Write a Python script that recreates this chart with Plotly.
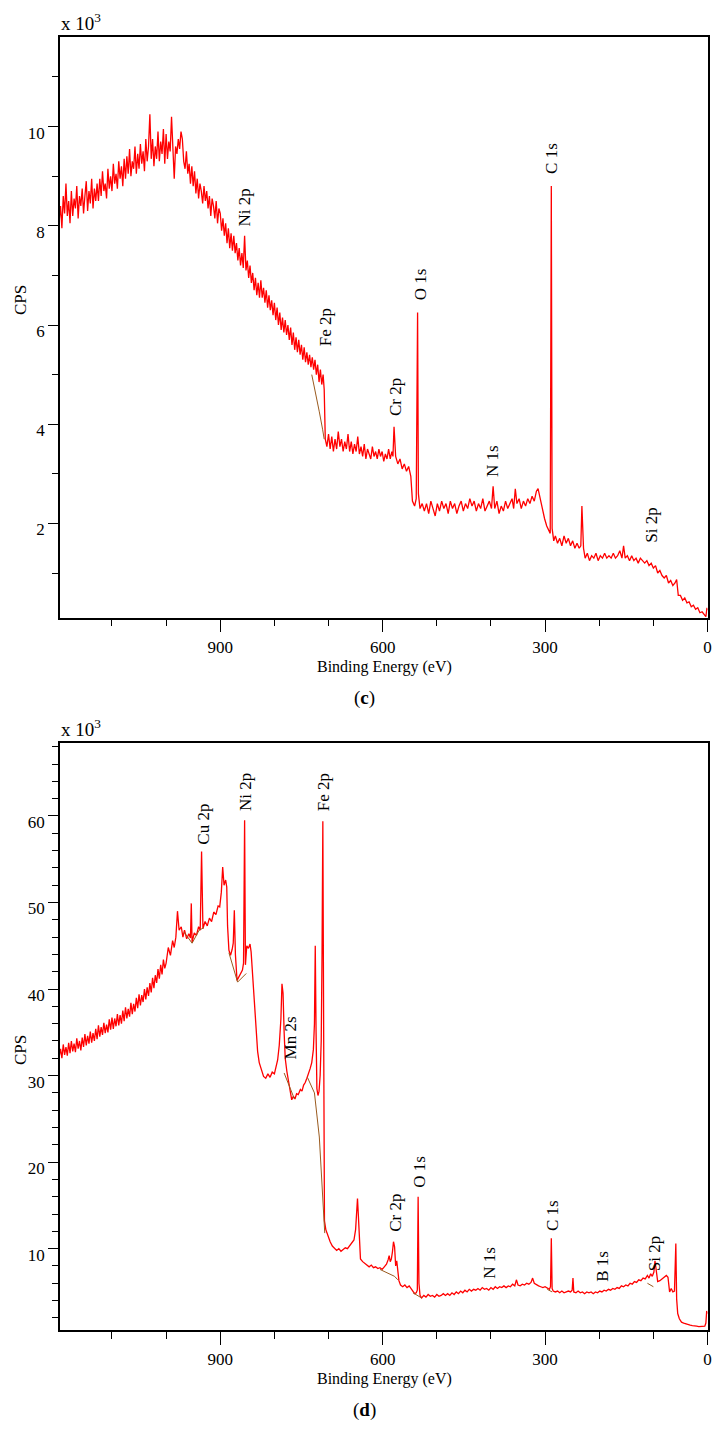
import plotly.graph_objects as go

# ---- panel (c): survey spectrum, counts in thousands ----
c_energy = [
    1200, 1197.5, 1195, 1192.5, 1190, 1187.5, 1185, 1182.5, 1180, 1177.5,
    1175, 1172.5, 1170, 1167.5, 1165, 1162.5, 1160, 1157.5, 1155, 1152.5,
    1150, 1147.5, 1145, 1142.5, 1140, 1137.5, 1135, 1132.5, 1130, 1127.5,
    1125, 1122.5, 1120, 1117.5, 1115, 1112.5, 1110, 1107.5, 1105, 1102.5,
    1100, 1097.5, 1095, 1092.5, 1090, 1087.5, 1085, 1082.5, 1080, 1077.5,
    1075, 1072.5, 1070, 1067.5, 1065, 1062.5, 1060, 1057.5, 1055, 1052.5,
    1050, 1047.5, 1045, 1042.5, 1040, 1037.5, 1035, 1032.5, 1030, 1027.5,
    1025, 1022.5, 1020, 1017.5, 1015, 1012.5, 1010, 1007.5, 1005, 1002.5,
    1000, 997.5, 995, 992.5, 990, 987.5, 985, 982.5, 980, 977.5,
    975, 972.5, 970, 967.5, 965, 962.5, 960, 957.5, 955, 952.5,
    950, 947.5, 945, 942.5, 940, 937.5, 935, 932.5, 930, 927.5,
    925, 922.5, 920, 917.5, 915, 912.5, 910, 907.5, 905, 902.5,
    900, 897.5, 895, 892.5, 890, 887.5, 885, 882.5, 880, 877.5,
    875, 872.5, 870, 867.5, 865, 862.5, 860, 857.5, 855, 852.5,
    850, 847.5, 845, 842.5, 840, 837.5, 835, 832.5, 830, 827.5,
    825, 822.5, 820, 817.5, 815, 812.5, 810, 807.5, 805, 802.5,
    800, 797.5, 795, 792.5, 790, 787.5, 785, 782.5, 780, 777.5,
    775, 772.5, 770, 767.5, 765, 762.5, 760, 757.5, 755, 752.5,
    750, 747.5, 745, 742.5, 740, 737.5, 735, 732.5, 730, 727.5,
    725, 722.5, 720, 717.5, 715, 712.5, 710, 708, 706, 703,
    700, 697, 694, 691, 688, 685, 682, 679, 676, 673,
    670, 667, 664, 661, 658, 655, 652, 649, 646, 643,
    640, 637, 634, 631, 628, 625, 622, 619, 616, 613,
    610, 607, 604, 601, 598, 595, 592, 589, 586, 583,
    581, 579, 576, 572, 568, 564, 560, 556, 552, 548,
    545, 541, 538, 535.5, 534, 531, 527, 523,
    519, 515, 511, 507, 503, 499, 495, 491, 487, 483,
    479, 475, 471, 467, 463, 459, 455, 451, 447, 443,
    439, 435, 431, 427, 423, 419, 415, 411, 407, 403,
    399, 396, 393, 389, 385, 381, 377, 373, 369, 365,
    361, 358, 355, 352, 348, 344, 340, 336, 332, 328,
    324, 320, 316, 313, 309, 305, 301, 297, 293, 290.5,
    288.5, 287, 284, 281, 277, 273, 269, 265, 261, 257,
    253, 249, 245, 241, 237, 234, 232, 229, 226, 222,
    218, 214, 210, 206, 202, 198, 194, 190, 186, 182,
    178, 174, 170, 166, 162, 158, 155, 152, 148, 144,
    140, 136, 132, 128, 124, 120, 116, 112, 108, 104,
    100, 96, 92, 88, 84, 80, 76, 72, 68, 64,
    60, 57, 54, 50, 46, 42, 38, 34, 30, 26,
    22, 18, 14, 10, 6, 3, 1, 0,
]
c_cps = [
    8.55, 8.1, 8.4, 7.95, 8.6, 8.25, 8.85, 8.2, 8.5, 8.05,
    8.7, 8.2, 8.55, 8.35, 8.8, 8.15, 8.6, 8.4, 8.75, 8.25,
    8.6, 8.9, 8.3, 8.7, 8.45, 8.95, 8.35, 8.75, 8.5, 8.85,
    8.5, 8.95, 8.6, 9.1, 8.7, 8.85, 8.55, 9.15, 8.75, 9.0,
    8.7, 9.25, 8.85, 9.05, 8.75, 9.3, 8.95, 9.2, 8.8, 9.35,
    8.95, 9.4, 9.05, 9.55, 9.0, 9.3, 9.15, 9.6, 9.05, 9.45,
    9.15, 9.65, 9.25, 9.5, 9.1, 9.75, 9.3, 9.6, 10.25, 9.35,
    9.75, 9.2, 9.6, 9.35, 9.9, 9.3, 9.7, 9.45, 9.95, 9.25,
    9.85, 9.35, 9.7, 9.5, 10.2, 9.4, 8.95, 9.6, 9.45, 9.75,
    9.55, 9.9, 9.75, 9.3, 9.15, 9.5, 9.05, 9.25, 8.85, 9.2,
    8.8, 9.1, 8.65, 8.95, 8.55, 8.85, 8.7, 8.45, 8.8, 8.5,
    8.7, 8.35, 8.6, 8.2, 8.55, 8.4, 8.15, 8.5, 8.05, 8.35,
    8.25, 7.9, 8.15, 7.8, 8.05, 7.65, 7.95, 7.55, 7.85, 7.5,
    7.8, 7.45, 7.65, 7.3, 7.55, 7.2, 7.45, 7.15, 7.8, 7.1,
    7.3, 6.95, 7.2, 6.85, 7.05, 6.7, 6.95, 6.6, 6.85, 6.55,
    6.9, 6.55, 6.75, 6.45, 6.7, 6.35, 6.6, 6.3, 6.5, 6.2,
    6.45, 6.1, 6.35, 6.0, 6.25, 5.9, 6.15, 5.85, 6.1, 5.8,
    6.0, 5.7, 5.95, 5.6, 5.85, 5.5, 5.75, 5.45, 5.7, 5.4,
    5.6, 5.3, 5.55, 5.25, 5.45, 5.2, 5.4, 5.15, 5.35, 5.1,
    5.3, 5.0, 5.2, 4.85, 5.1, 4.8, 5.0, 4.7, 3.7, 3.55,
    3.8, 3.5, 3.75, 3.45, 3.7, 3.5, 3.85, 3.55, 3.7, 3.45,
    3.65, 3.5, 3.8, 3.45, 3.65, 3.4, 3.6, 3.45, 3.75, 3.4,
    3.55, 3.35, 3.6, 3.3, 3.5, 3.4, 3.3, 3.55, 3.35, 3.45,
    3.3, 3.5, 3.35, 3.45, 3.25, 3.4, 3.3, 3.5, 3.3, 3.45,
    3.35, 3.95, 3.35, 3.2, 3.3, 3.1, 3.2, 3.05, 3.15, 2.95,
    2.45, 2.35, 2.5, 6.25, 2.6, 2.3, 2.4, 2.25,
    2.4, 2.2, 2.45, 2.3, 2.15, 2.4, 2.25, 2.45, 2.3, 2.4,
    2.2, 2.45, 2.3, 2.4, 2.2, 2.35, 2.45, 2.25, 2.4, 2.3,
    2.5, 2.35, 2.45, 2.25, 2.4, 2.3, 2.5, 2.25, 2.35, 2.45,
    2.3, 2.75, 2.3, 2.45, 2.2, 2.35, 2.25, 2.45, 2.3, 2.4,
    2.5, 2.3, 2.7, 2.4, 2.5, 2.3, 2.45, 2.35, 2.5, 2.4,
    2.55, 2.45, 2.65, 2.7, 2.5, 2.25, 2.1, 1.95, 1.85, 1.8,
    8.8, 1.9, 1.65, 1.75, 1.6, 1.7, 1.55, 1.75, 1.6, 1.7,
    1.55, 1.65, 1.5, 1.6, 1.5, 1.55, 2.35, 1.5, 1.3, 1.4,
    1.25, 1.35, 1.3, 1.4, 1.25, 1.35, 1.3, 1.4, 1.3, 1.35,
    1.3, 1.4, 1.3, 1.35, 1.45, 1.3, 1.55, 1.3, 1.35, 1.25,
    1.35, 1.25, 1.3, 1.2, 1.3, 1.25, 1.2, 1.25, 1.15, 1.2,
    1.1, 1.15, 1.0, 1.05, 0.95, 0.9, 0.95, 0.8, 0.85, 0.75,
    0.8, 0.87, 0.55, 0.55, 0.45, 0.5, 0.4, 0.42, 0.32, 0.35,
    0.27, 0.3, 0.2, 0.22, 0.15, 0.12, 0.3, 0.25,
]
c_bg_energy = [731, 724, 717, 711, 708]
c_bg_cps = [5.0, 4.65, 4.25, 3.9, 3.7]

c_labels = ["Ni 2p", "Fe 2p", "Cr 2p", "O 1s", "N 1s", "C 1s", "Si 2p"]
c_label_energy = [855, 705, 576, 531, 396, 288, 103]
c_label_cps = [8.36, 5.95, 4.54, 6.82, 3.26, 9.36, 1.97]

# ---- panel (d) ----
d_energy = [
    1200, 1197.5, 1195, 1192.5, 1190, 1187.5, 1185, 1182.5, 1180, 1177.5,
    1175, 1172.5, 1170, 1167.5, 1165, 1162.5, 1160, 1157.5, 1155, 1152.5,
    1150, 1147.5, 1145, 1142.5, 1140, 1137.5, 1135, 1132.5, 1130, 1127.5,
    1125, 1122.5, 1120, 1117.5, 1115, 1112.5, 1110, 1107.5, 1105, 1102.5,
    1100, 1097.5, 1095, 1092.5, 1090, 1087.5, 1085, 1082.5, 1080, 1077.5,
    1075, 1072.5, 1070, 1067.5, 1065, 1062.5, 1060, 1057.5, 1055, 1052.5,
    1050, 1047.5, 1045, 1042.5, 1040, 1037.5, 1035, 1032.5, 1030, 1027.5,
    1025, 1022.5, 1020, 1017.5, 1015, 1012.5, 1010, 1007.5, 1005, 1002.5,
    1000, 996, 992, 988, 985, 982, 979, 976, 972, 969,
    966, 962, 958, 955, 953.5, 952, 948, 944, 940, 937,
    934.5, 932, 928, 924, 920, 916, 912, 908, 904, 901,
    898, 895.5, 893, 890, 888, 886.5, 884, 881, 878, 876,
    874, 872, 869, 866, 862, 859, 857, 855, 853.5, 851,
    848, 845, 843, 840, 837, 834, 831, 828, 824, 820,
    816, 812, 808, 804, 800, 797, 794, 791, 788, 786,
    784, 782, 780, 777, 774, 771, 768, 765, 762, 759,
    756, 752, 749, 746, 743, 740, 737, 734, 731, 728,
    726, 724.5, 723, 721.5, 719.5, 717.5, 715.5, 713.5, 712, 710.5,
    709, 707.5, 705, 701, 697, 693, 689, 685, 681, 677,
    673, 669, 665, 661, 657, 653, 650, 648, 646.5, 645,
    643, 641, 637, 633, 629, 625, 621, 617, 613, 609,
    605, 601, 597, 593, 590, 588, 586, 584, 582, 580,
    578, 576, 574, 572, 570, 567, 563, 559, 555, 551,
    547, 544, 541, 538, 536, 534.5, 533, 531, 528, 524,
    520, 516, 512, 508, 504, 500, 496, 492, 488, 484,
    480, 476, 472, 468, 464, 460, 456, 452, 448, 444,
    440, 436, 432, 428, 424, 420, 416, 412, 408, 404,
    400, 396, 392, 388, 384, 380, 376, 372, 368, 364,
    360, 356, 353, 350, 346, 342, 338, 334, 330, 326,
    323, 320, 316, 312, 308, 304, 300, 296, 292, 290,
    288.5, 287, 285, 281, 277, 273, 269, 265, 261, 257,
    253, 250, 248.5, 247, 243, 239, 235, 231, 227, 223,
    219, 215, 211, 207, 203, 199, 195, 191, 187, 183,
    179, 175, 171, 167, 163, 159, 155, 151, 147, 143,
    139, 135, 131, 127, 123, 119, 115, 111, 108, 105,
    102, 99, 97, 95, 92, 88, 84, 80, 76, 73,
    70, 67, 64, 61, 58.5, 57, 55, 52, 48, 44,
    40, 36, 32, 28, 24, 20, 16, 12, 8, 5,
    3, 1.5, 0,
]
d_cps = [
    33.4, 32.2, 33.1, 32.0, 33.6, 32.4, 33.3, 32.3, 33.8, 32.6,
    34.0, 32.8, 33.7, 32.7, 34.3, 33.1, 34.0, 32.9, 34.4, 33.3,
    34.8, 33.5, 34.6, 33.7, 35.1, 33.8, 34.9, 34.0, 35.4, 34.2,
    35.8, 34.5, 35.6, 34.7, 36.1, 34.9, 35.9, 35.0, 36.5, 35.3,
    36.7, 35.4, 36.6, 35.7, 37.1, 35.8, 37.0, 36.0, 37.5, 36.3,
    37.9, 36.6, 37.7, 36.8, 38.4, 37.1, 38.3, 37.4, 39.0, 37.8,
    39.4, 38.1, 39.3, 38.5, 40.0, 38.8, 40.2, 39.2, 40.7, 39.6,
    41.3, 40.1, 41.6, 40.7, 42.3, 41.2, 42.8, 41.7, 43.4, 42.4,
    43.0, 44.8, 43.9, 45.6, 44.8, 46.0, 49.0, 46.8, 47.2, 46.0,
    46.8, 45.8, 46.4, 45.9, 49.9, 45.4, 46.5, 46.2, 47.2, 46.8,
    55.9, 47.0, 47.8, 47.3, 48.2, 47.8, 48.9, 48.6, 49.6, 49.5,
    51.2, 54.1, 52.0, 52.6, 51.8, 47.3, 44.5, 43.9, 44.6, 45.3,
    49.1, 44.0, 41.0, 41.4, 41.8, 42.2, 43.0, 59.5, 42.8, 45.0,
    44.7, 45.2, 44.3, 41.5, 38.5, 35.0, 32.8, 31.5, 30.6, 29.9,
    29.7, 30.2, 29.8, 30.4, 30.2, 31.0, 31.8, 33.5, 36.5, 40.6,
    39.5, 35.0, 32.0, 30.5, 29.2, 28.3, 27.2, 27.6, 27.3, 27.9,
    27.8, 28.4, 28.2, 28.9, 29.2, 29.7, 30.2, 30.8, 31.5, 33.0,
    36.0, 45.0, 35.0, 28.5, 27.7, 28.2, 30.0, 34.0, 44.0, 59.4,
    35.0, 13.2, 12.2, 11.4, 10.8, 10.3, 10.0, 9.8, 10.0, 9.7,
    9.9, 10.1, 10.0, 10.3, 10.6, 11.0, 12.2, 14.5, 15.8, 14.0,
    10.2, 8.8, 8.5, 8.3, 8.1, 7.9, 8.1, 7.8, 7.9, 7.7,
    7.8, 7.6, 7.9, 8.2, 8.7, 9.2, 8.5, 8.8, 9.6, 10.8,
    10.2, 8.0, 8.6, 7.4, 6.3, 5.8, 5.6, 5.8, 5.5, 5.7,
    5.3, 5.0, 4.8, 4.9, 5.2, 16.0, 6.0, 4.6, 4.3, 4.6,
    4.4, 4.7, 4.5, 4.6, 4.4, 4.7, 4.5, 4.6, 4.8, 4.6,
    4.8, 4.6, 4.9, 4.7, 5.0, 4.8, 5.1, 4.9, 5.2, 5.0,
    5.3, 5.1, 5.3, 5.2, 5.4, 5.2, 5.5, 5.3, 5.4, 5.2,
    5.5, 5.3, 5.6, 5.4, 5.6, 5.5, 5.7, 5.5, 5.7, 5.6,
    5.9, 5.7, 6.4, 5.8, 5.7, 5.9, 5.8, 6.0, 5.9, 6.1,
    6.6, 6.0, 5.8, 5.7, 5.6, 5.5, 5.6, 5.4, 5.3, 5.6,
    11.2, 5.4, 5.1, 5.0, 5.1, 4.9, 5.1, 4.9, 5.0, 5.1,
    5.0, 5.2, 6.6, 5.0, 4.9, 5.1, 4.9, 5.0, 4.8, 5.0,
    4.9, 5.0, 4.8, 5.0, 4.9, 5.1, 5.0, 5.2, 5.1, 5.3,
    5.2, 5.4, 5.3, 5.5, 5.4, 5.7, 5.6, 5.8, 5.7, 6.0,
    5.9, 6.2, 6.1, 6.4, 6.3, 6.6, 6.5, 6.9, 6.6, 7.1,
    6.8, 7.3, 8.6, 7.4, 6.2, 6.3, 6.5, 6.6, 6.9, 6.7,
    5.0, 5.4, 5.0, 5.1, 10.6, 4.2, 2.5, 1.9, 1.5, 1.4,
    1.3, 1.25, 1.15, 1.1, 1.1, 1.05, 1.0, 1.0, 1.0, 1.05,
    1.4, 2.8, 2.5,
]
d_bg_energy = [967, 952, 939, 930, None, 884, 868, 852, None, 782, 763, None,
               739, 726, 717, 711, 707, None, 605, 578, 572, None, 544, 528, None,
               296, 287, None, 111, 100]
d_bg_cps = [46.6, 45.3, 46.8, 47.1, None, 44.2, 40.8, 41.8, None, 30.3, 27.3, None,
            29.8, 28.0, 22.9, 15.3, 11.8, None, 7.6, 6.8, 6.4, None, 4.9, 4.3, None,
            5.3, 5.0, None, 6.0, 5.6]

d_labels = ["Cu 2p", "Ni 2p", "Fe 2p", "Mn 2s", "Cr 2p", "O 1s", "N 1s", "C 1s", "B 1s", "Si 2p"]
d_label_energy = [930, 852, 709, 771, 576, 531, 402, 285, 193, 98]
d_label_cps = [59.0, 62.8, 62.7, 34.3, 14.1, 18.9, 8.35, 13.8, 7.9, 9.4]

assert len(c_energy) == len(c_cps)
assert len(d_energy) == len(d_cps)

# the page body keeps its default 8px margin, so the figure is drawn 8px in
OFF = 8
W, H = 705, 1415
FONT = "Liberation Serif, Times New Roman, serif"


def px(x):
    return (x - OFF) / W


def py(y):
    return 1 - (y - OFF) / H


fig = go.Figure()
fig.add_trace(go.Scatter(x=c_energy, y=c_cps, mode="lines",
                         line=dict(color="#ff0000", width=1.3), xaxis="x", yaxis="y"))
fig.add_trace(go.Scatter(x=c_bg_energy, y=c_bg_cps, mode="lines",
                         line=dict(color="#9a5a1e", width=1), xaxis="x", yaxis="y"))
fig.add_trace(go.Scatter(x=d_energy, y=d_cps, mode="lines",
                         line=dict(color="#ff0000", width=1.3), xaxis="x2", yaxis="y2"))
fig.add_trace(go.Scatter(x=d_bg_energy, y=d_bg_cps, mode="lines", connectgaps=False,
                         line=dict(color="#9a5a1e", width=1), xaxis="x2", yaxis="y2"))

tickfont = dict(family=FONT, size=17, color="black")
xcommon = dict(
    domain=[px(60), px(707.5)], range=[1196, 0], tickvals=[0, 300, 600, 900],
    ticks="outside", ticklen=13, tickwidth=1, tickcolor="black",
    minor=dict(dtick=100, tick0=0, ticks="outside", ticklen=7, tickcolor="black"),
    showline=True, linecolor="black", linewidth=1.5, mirror=True,
    showgrid=False, zeroline=False, tickfont=tickfont,
)
ycommon = dict(
    ticks="outside", ticklen=10, tickwidth=1, tickcolor="black",
    showline=True, linecolor="black", linewidth=1.5, mirror=True,
    showgrid=False, zeroline=False, tickfont=tickfont, ticklabelshift=6,
)

fig.update_layout(
    width=W, height=H, template="none",
    margin=dict(l=0, r=0, t=0, b=0),
    paper_bgcolor="white", plot_bgcolor="white", showlegend=False,
    xaxis=dict(anchor="y", **xcommon),
    yaxis=dict(anchor="x", domain=[py(617.7), py(37.3)], range=[0.1, 11.8],
               tickvals=[2, 4, 6, 8, 10],
               minor=dict(dtick=1, tick0=0, ticks="outside", ticklen=6, tickcolor="black"),
               **ycommon),
    xaxis2=dict(anchor="y2", **xcommon),
    yaxis2=dict(anchor="x2", domain=[py(1330), py(743.3)], range=[0.6, 68.4],
                tickvals=[10, 20, 30, 40, 50, 60],
                minor=dict(dtick=2, tick0=0, ticks="outside", ticklen=6, tickcolor="black"),
                **ycommon),
)

anns = []
for names, es, vs, xr, yr in [(c_labels, c_label_energy, c_label_cps, "x", "y"),
                              (d_labels, d_label_energy, d_label_cps, "x2", "y2")]:
    for t, e, v in zip(names, es, vs):
        anns.append(dict(x=e, y=v, xref=xr, yref=yr, text=t, showarrow=False,
                         textangle=-90, xanchor="center", yanchor="middle",
                         font=dict(family=FONT, size=17, color="black")))

for top, cps_y, title_y, tag_y, tag in [(37.3, 300, 667, 698, "c"),
                                       (743.3, 1050, 1379, 1410, "d")]:
    anns.append(dict(x=px(59), y=py(top - 1), xref="paper", yref="paper",
                     text="x 10<sup>3</sup>", showarrow=False,
                     xanchor="left", yanchor="bottom",
                     font=dict(family=FONT, size=19, color="black")))
    anns.append(dict(x=px(20), y=py(cps_y), xref="paper", yref="paper",
                     text="CPS", showarrow=False, textangle=-90,
                     xanchor="center", yanchor="middle",
                     font=dict(family=FONT, size=17, color="black")))
    anns.append(dict(x=px(384), y=py(title_y), xref="paper", yref="paper",
                     text="Binding Energy (eV)", showarrow=False,
                     xanchor="center", yanchor="middle",
                     font=dict(family=FONT, size=16, color="black")))
    anns.append(dict(x=px(365), y=py(tag_y), xref="paper", yref="paper",
                     text="(<b>%s</b>)" % tag, showarrow=False,
                     xanchor="center", yanchor="middle",
                     font=dict(family=FONT, size=19, color="black")))

fig.update_layout(annotations=anns)
fig.write_html("out.html")
